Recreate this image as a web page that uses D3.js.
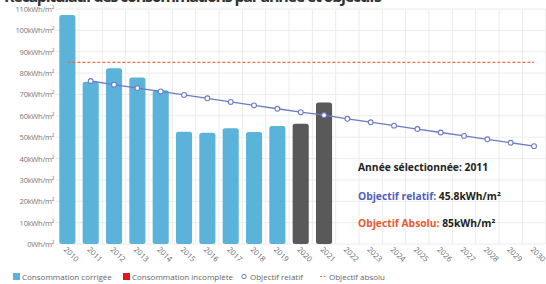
<!DOCTYPE html>
<html>
<head>
<meta charset="utf-8">
<script src="https://cdn.jsdelivr.net/npm/d3@7"></script>
<style>
  body { margin: 0; background: #fff; }
  svg { display: block; font-family: "Open Sans", sans-serif; }
</style>
</head>
<body>
<div id="main"></div>
<script>
// data
var years = ["2010","2011","2012","2013","2014","2015","2016","2017","2018","2019","2020",
             "2021","2022","2023","2024","2025","2026","2027","2028","2029","2030"];
var consoYears = ["2010","2011","2012","2013","2014","2015","2016","2017","2018","2019"];
var consoValues = [107.2, 76.0, 82.3, 77.9, 72.0, 52.6, 52.1, 54.2, 52.4, 55.2];
var greyYears = ["2020","2021"];
var greyValues = [56.3, 66.2];
var relatifYears = ["2011","2012","2013","2014","2015","2016","2017","2018","2019","2020",
                    "2021","2022","2023","2024","2025","2026","2027","2028","2029","2030"];
var relatifValues = [76.3, 74.6, 73.0, 71.4, 69.8, 68.2, 66.5, 64.9, 63.3, 61.7,
                     60.3, 58.6, 57.0, 55.4, 53.8, 52.2, 50.6, 49.0, 47.4, 45.8];
var absoluValue = 85;
var yTicks = [0,10,20,30,40,50,60,70,80,90,100,110];
var legendLabels = ["Consommation corrigée", "Consommation incomplète", "Objectif relatif", "Objectif absolu"];

var W = 546, H = 284;
var svg = d3.select("#main").append("svg")
  .attr("width", W)
  .attr("height", H);

var x = d3.scaleBand()
  .domain(years)
  .range([55.7, 545.7])
  .paddingInner(0.31)
  .paddingOuter(0.155);

var y = d3.scaleLinear()
  .domain([0, 110])
  .range([244, 9]);

var step = x.step();

// title (cut at top)
svg.append("text")
  .attr("x", 4)
  .attr("y", 1.5)
  .attr("font-size", 16)
  .attr("font-weight", "bold")
  .attr("fill", "#333")
  .attr("textLength", 378)
  .text("Récapitulatif des consommations par année et objectifs");

// horizontal grid
svg.append("g").selectAll("line")
  .data(yTicks)
  .enter().append("line")
  .attr("x1", 55.7).attr("x2", 545.7)
  .attr("y1", function(d) { return y(d); })
  .attr("y2", function(d) { return y(d); })
  .attr("stroke", "#ececec")
  .attr("stroke-width", 1);

// vertical grid at band boundaries
svg.append("g").selectAll("line")
  .data(years)
  .enter().append("line")
  .attr("x1", function(d) { return x(d) + x.bandwidth() / 2 + step / 2; })
  .attr("x2", function(d) { return x(d) + x.bandwidth() / 2 + step / 2; })
  .attr("y1", y(110)).attr("y2", y(0))
  .attr("stroke", "#ececec")
  .attr("stroke-width", 1);

// y labels
svg.append("g").selectAll("text")
  .data(yTicks)
  .enter().append("text")
  .attr("x", 54)
  .attr("y", function(d) { return y(d) + 3; })
  .attr("text-anchor", "end")
  .attr("font-size", 7.6)
  .attr("letter-spacing", -0.3)
  .attr("fill", "#777")
  .text(function(d) { return d === 0 ? "0Wh/m²" : d + "kWh/m²"; });

// x labels rotated
svg.append("g").selectAll("text")
  .data(years)
  .enter().append("text")
  .attr("transform", function(d) {
    return "translate(" + (x(d) + x.bandwidth() / 2 - 4) + ",250) rotate(45)";
  })
  .attr("font-size", 7.6)
  .attr("fill", "#666")
  .text(function(d) { return d; });

// blue bars
svg.append("g").selectAll("rect")
  .data(consoYears)
  .enter().append("rect")
  .attr("x", function(d) { return x(d); })
  .attr("width", x.bandwidth())
  .attr("y", function(d, i) { return y(consoValues[i]); })
  .attr("height", function(d, i) { return y(0) - y(consoValues[i]); })
  .attr("rx", 2.5)
  .attr("fill", "#5bb3da");

// grey bars
svg.append("g").selectAll("rect")
  .data(greyYears)
  .enter().append("rect")
  .attr("x", function(d) { return x(d); })
  .attr("width", x.bandwidth())
  .attr("y", function(d, i) { return y(greyValues[i]); })
  .attr("height", function(d, i) { return y(0) - y(greyValues[i]); })
  .attr("rx", 2.5)
  .attr("fill", "#595959");

// objectif absolu dashed line
svg.append("line")
  .attr("x1", x("2010") + x.bandwidth() / 2)
  .attr("x2", x("2030") + x.bandwidth() / 2)
  .attr("y1", y(absoluValue)).attr("y2", y(absoluValue))
  .attr("stroke", "#f26b4a")
  .attr("stroke-width", 1.2)
  .attr("stroke-dasharray", "3,2");

// objectif relatif line
var line = d3.line()
  .x(function(d, i) { return x(relatifYears[i]) + x.bandwidth() / 2; })
  .y(function(d) { return y(d); });

svg.append("path")
  .datum(relatifValues)
  .attr("d", line)
  .attr("fill", "none")
  .attr("stroke", "#6b7cc6")
  .attr("stroke-width", 1.3);

svg.append("g").selectAll("circle")
  .data(relatifValues)
  .enter().append("circle")
  .attr("cx", function(d, i) { return x(relatifYears[i]) + x.bandwidth() / 2; })
  .attr("cy", function(d) { return y(d); })
  .attr("r", 2.4)
  .attr("fill", "#fff")
  .attr("stroke", "#6b7cc6")
  .attr("stroke-width", 1.1);

// annotation block
var note = svg.append("g")
  .attr("font-size", 10.3)
  .attr("font-weight", "bold");

note.append("text")
  .attr("x", 358).attr("y", 171)
  .attr("fill", "#222")
  .text("Année sélectionnée: 2011");

var t2 = note.append("text").attr("x", 358).attr("y", 200);
t2.append("tspan").attr("fill", "#4f5fbd").text("Objectif relatif: ");
t2.append("tspan").attr("fill", "#222").text("45.8kWh/m²");

var t3 = note.append("text").attr("x", 358).attr("y", 227);
t3.append("tspan").attr("fill", "#ea5a33").text("Objectif Absolu: ");
t3.append("tspan").attr("fill", "#222").text("85kWh/m²");

// legend
var lg = svg.append("g").attr("font-size", 8).attr("fill", "#666");
lg.append("rect").attr("x", 13).attr("y", 273).attr("width", 7).attr("height", 7).attr("fill", "#5bb3da");
lg.append("text").attr("x", 22).attr("y", 280).text(legendLabels[0]);
lg.append("rect").attr("x", 123).attr("y", 273).attr("width", 7).attr("height", 7).attr("fill", "#e8141c");
lg.append("text").attr("x", 132).attr("y", 280).text(legendLabels[1]);
lg.append("circle").attr("cx", 244).attr("cy", 276.5).attr("r", 2.2)
  .attr("fill", "#fff").attr("stroke", "#6b7cc6").attr("stroke-width", 1);
lg.append("text").attr("x", 250).attr("y", 280).text(legendLabels[2]);
lg.append("line").attr("x1", 320).attr("x2", 327).attr("y1", 276.5).attr("y2", 276.5)
  .attr("stroke", "#f26b4a").attr("stroke-dasharray", "2,1.5");
lg.append("text").attr("x", 329).attr("y", 280).text(legendLabels[3]);
</script>
</body>
</html>
